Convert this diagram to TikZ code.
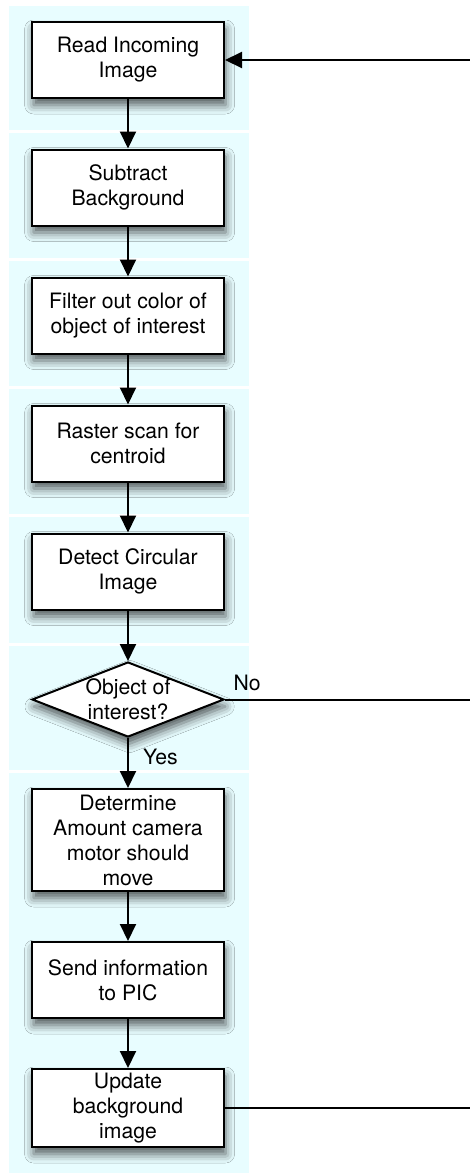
\documentclass[tikz,border=0pt]{standalone}
\usepackage{fontspec}
\setmainfont{TeX Gyre Heros}
\usetikzlibrary{arrows.meta,shapes.geometric,shadows.blur}
\definecolor{lanecyan}{RGB}{232,253,255}

\begin{document}
\begin{tikzpicture}[
x=0.5pt, y=-0.5pt,
lane/.style={fill=lanecyan},
txt/.style={font=\fontsize{10.6}{12.5}\selectfont, align=center, inner sep=0pt},
proc/.style={txt, draw, line width=1pt, fill=white, minimum width=96pt, minimum height=38pt, blur shadow={shadow xshift=0.8pt, shadow yshift=-3.5pt, shadow blur radius=4.5pt, shadow opacity=65}},
decision/.style={diamond, draw, line width=1pt, fill=white, inner sep=0pt, minimum width=96pt, minimum height=37.5pt, blur shadow={shadow xshift=0.8pt, shadow yshift=-3.5pt, shadow blur radius=4.5pt, shadow opacity=65}},
arrowlabel/.style={font=\fontsize{10.6}{12.5}\selectfont, inner sep=1pt},
arrow/.style={-{Triangle[length=8.5pt,width=8pt]}, line width=1pt},
line/.style={line width=1pt} ]

\useasboundingbox (0,0) rectangle (470,1174);

% lanes
\foreach \ltop/\lbot in {6/129.5, 132.5/257.5, 260.5/385.5, 388.5/513.5, 516.5/643, 646/769.5, 772.5/1173}
  \fill[lane] (9,\ltop) rectangle (249,\lbot);

\node[proc] (A) at (128,60) {Read Incoming\\Image};

\node[proc] (B) at (128,187.5) {Subtract\\Background};

\node[proc] (C) at (128,315.5) {Filter out color of\\object of interest};

\node[proc] (D) at (128,443.5) {Raster scan for\\centroid};

\node[proc] (E) at (128,571.5) {Detect Circular\\Image};

\node[decision] (F) at (128,699.5) {};

\node[txt] (Ft) at (F) {Object of\\interest?};

\node[proc, minimum height=51pt] (G) at (128,840) {Determine\\Amount camera\\motor should\\move};

\node[proc] (H) at (128,980) {Send information\\to PIC};

\node[proc, minimum height=39pt] (I) at (128,1108) {Update\\background\\image};

\coordinate (R1) at (470,60);

\coordinate (R2) at (470,699.5);

\coordinate (R3) at (470,1108);

\draw[arrow] (A) -- (B);

\draw[arrow] (B) -- (C);

\draw[arrow] (C) -- (D);

\draw[arrow] (D) -- (E);

\draw[arrow] (E) -- (F);

\draw[arrow] (F) -- node[right, arrowlabel, pos=0.37, xshift=6pt] {Yes} (G);

\draw[arrow] (G) -- (H);

\draw[arrow] (H) -- (I);

\draw[line] (F.east) -- node[above, arrowlabel, pos=0.09, yshift=3pt] {No} (R2);

\draw[line] (I.east) -- (R3);

\draw[arrow] (R1) -- (A.east);

\end{tikzpicture}
\end{document}
